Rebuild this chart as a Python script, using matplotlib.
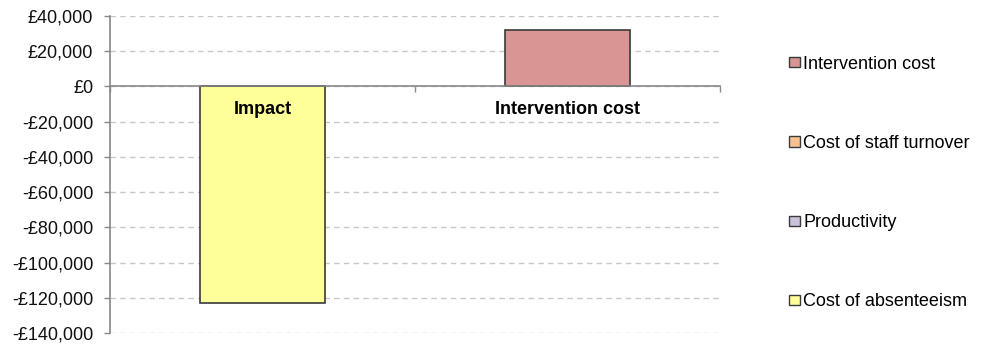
import matplotlib.pyplot as plt
from matplotlib.ticker import FuncFormatter
import numpy as np

plt.rcParams['font.family'] = ['Liberation Sans', 'DejaVu Sans']

categories = ['Impact', 'Intervention cost']
# stacked series (bottom to top in legend order reversed)
series_names = ['Cost of absenteeism', 'Productivity', 'Cost of staff turnover', 'Intervention cost']
absenteeism = [-123000, 0]
productivity = [0, 0]
staff_turnover = [0, 0]
intervention = [0, 32000]
series_values = [absenteeism, productivity, staff_turnover, intervention]
colors = ['#FFFF99', '#CCC1DA', '#FAC090', '#D99594']

fig = plt.figure(figsize=(9.81, 3.47), dpi=100)
ax = fig.add_axes([0.1121, 0.0403, 0.622, 0.9135])

x = np.arange(len(categories))
pos_base = np.zeros(len(categories))
neg_base = np.zeros(len(categories))
handles = []
for name, vals, col in zip(series_names, series_values, colors):
    vals = np.array(vals, dtype=float)
    bottom = np.where(vals >= 0, pos_base, neg_base)
    b = ax.bar(x, vals, width=0.41, bottom=bottom, color=col, edgecolor='#3a3a3a',
               linewidth=1.2, label=name, zorder=3)
    handles.append(b)
    pos_base += np.clip(vals, 0, None)
    neg_base += np.clip(vals, None, 0)

ax.set_xlim(-0.5, 1.5)
ax.set_ylim(-140000, 40000)
ax.set_yticks(np.arange(-140000, 40001, 20000))

def money(v, pos):
    v = int(round(v))
    if v < 0:
        return '-£{:,}'.format(-v)
    return '£{:,}'.format(v)

ax.yaxis.set_major_formatter(FuncFormatter(money))
ax.tick_params(axis='y', labelsize=13, colors='#888888', labelcolor='#111111',
               length=4.5, width=1, pad=7.5)
ax.yaxis.grid(True, linestyle=(0, (4, 3)), color='#c8c8c8', linewidth=1, zorder=0)

for s in ['top', 'right']:
    ax.spines[s].set_visible(False)
ax.spines['left'].set_color('#888888')
ax.spines['left'].set_linewidth(1.2)
ax.spines['bottom'].set_position(('data', 0))
ax.spines['bottom'].set_color('#888888')
ax.spines['bottom'].set_linewidth(1.2)
ax.spines['bottom'].set_zorder(4)
ax.set_xticks([-0.5, 0.5, 1.5])
ax.set_xticklabels([])
ax.tick_params(axis='x', direction='out', length=4, colors='#888888', width=1)

for xi, cat in zip(x, categories):
    ax.annotate(cat, (xi, 0), xytext=(0, -16.5), textcoords='offset points',
                ha='center', va='center', fontsize=13, fontweight='bold', zorder=5)

leg = fig.legend(handles[::-1], series_names[::-1], loc='upper left',
                 bbox_to_anchor=(0.804, 0.84), frameon=False, fontsize=13,
                 handlelength=0.6, handleheight=0.5, handletextpad=0.2,
                 labelspacing=3.45, borderaxespad=0, borderpad=0)
for p in leg.get_patches():
    p.set_edgecolor('#3a3a3a')
    p.set_linewidth(1.0)

fig.savefig('out.png', dpi=100)
